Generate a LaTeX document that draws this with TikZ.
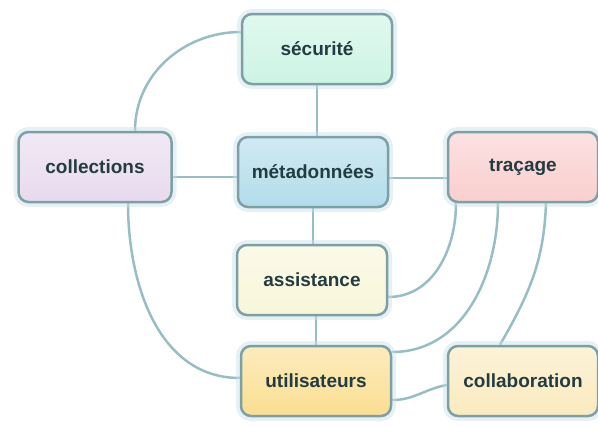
\documentclass[tikz,border=0pt]{standalone}
\usepackage{fontspec}
\setmainfont{Liberation Sans}
\usepackage{tikz}
\usetikzlibrary{backgrounds}

\definecolor{linkcol}{RGB}{150,190,196}
\definecolor{edgecol}{RGB}{125,160,166}
\definecolor{halocol}{RGB}{200,225,232}
\definecolor{txtcol}{RGB}{35,60,66}
\definecolor{secfill}{RGB}{205,244,228}
\definecolor{collfill}{RGB}{232,218,238}
\definecolor{metafill}{RGB}{178,220,234}
\definecolor{tracfill}{RGB}{250,206,206}
\definecolor{assfill}{RGB}{248,246,216}
\definecolor{utilfill}{RGB}{250,222,145}
\definecolor{collabfill}{RGB}{250,234,190}

\tikzset{
  topic/.style = {draw=edgecol, line width=2.5pt, rounded corners=10pt,
                  minimum width=150pt, minimum height=70pt,
                  font=\fontsize{19}{22}\selectfont\bfseries, text=txtcol,
                  top color=white!40!#1, bottom color=#1,
                  preaction={draw=halocol, line width=10pt, opacity=0.45}},
  link/.style  = {draw=linkcol, line width=2.5pt}
}

\begin{document}
\begin{tikzpicture}[x=1pt, y=-1pt]
            \useasboundingbox (0,0) rectangle (598,426);
            %\draw[help lines] (0,0) grid (598,426);
            \node[topic=secfill]    (sec)    at (317,49)  {sécurité};
            \node[topic=collfill, minimum width=153pt] (coll) at (95,167) {collections};
            \node[topic=metafill]   (meta)   at (313,172) {métadonnées};
            \node[topic=tracfill]   (trac)   at (523,167) {traçage};
            \node[topic=assfill]    (assist) at (312,280) {assistance};
            \node[topic=utilfill]   (util)   at (316,381) {utilisateurs};
            \node[topic=collabfill] (collab) at (523,381) {collaboration};

            \begin{scope}[on background layer]
            \draw[link] (sec.south) -- (sec.south |- meta.north);
            \draw[link] (meta.south) -- (meta.south |- assist.north);
            \draw[link] (util.north) -- (util.north |- assist.south);
            \draw[link] ([yshift=-10pt]coll.east) -- ([yshift=-10pt]coll.east -| meta.west);
            \draw[link] ([yshift=-6pt]meta.east) -- ([yshift=-6pt]meta.east -| trac.west);
            % curved links
            \draw[link] ([xshift=40pt]coll.north) to[out=90, in=180] ([yshift=17pt]sec.west);
            \draw[link] ([xshift=33pt]coll.south) to[out=-90, in=180] ([yshift=3pt]util.west);
            \draw[link] ([xshift=-67pt]trac.south) to[out=-90, in=0] ([yshift=-17pt]assist.east);
            \draw[link] ([xshift=-25pt]trac.south) to[out=-90, in=0] ([yshift=29pt]util.east);
            \draw[link] ([xshift=23pt]trac.south) to[out=-92, in=60] ([xshift=-23pt]collab.north);
            \draw[link] ([yshift=-19pt]util.east) to[out=0, in=190] ([yshift=-4pt]collab.west);
            \end{scope}
\end{tikzpicture}
\end{document}
